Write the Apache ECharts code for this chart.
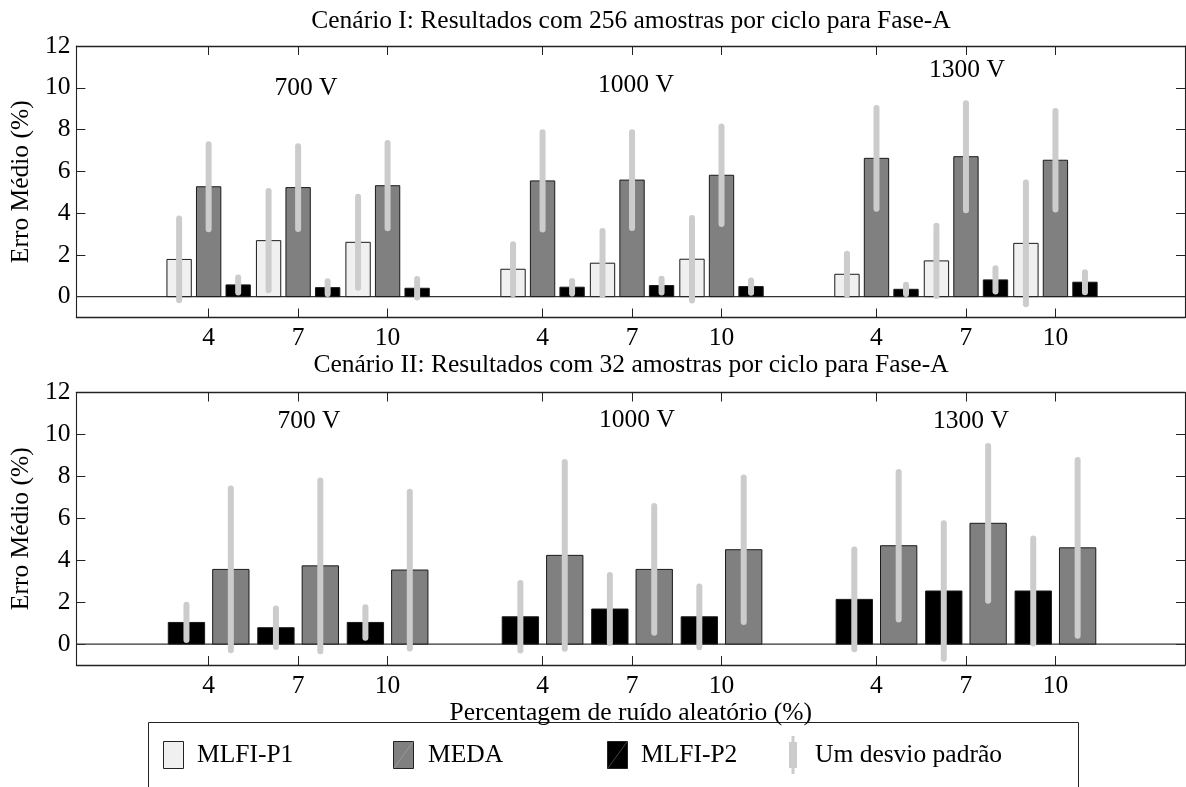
<!DOCTYPE html>
<html>
<head>
<meta charset="utf-8">
<script src="https://cdn.jsdelivr.net/npm/echarts@6/dist/echarts.min.js"></script>
<style>
  html, body { margin: 0; padding: 0; background: #ffffff; }
  #chart { width: 1186px; height: 787px; }
</style>
</head>
<body>
<div id="chart"></div>
<script>
// ---- data ----
const noiseLevels = ['4', '7', '10'];
const voltages = ['700 V', '1000 V', '1300 V'];
const seriesNames = ['MLFI-P1', 'MEDA', 'MLFI-P2'];
const stdLabel = 'Um desvio padrão';
const yTicks = [0, 2, 4, 6, 8, 10, 12];
const titles = [
  'Cenário I: Resultados com 256 amostras por ciclo para Fase-A',
  'Cenário II: Resultados com 32 amostras por ciclo para Fase-A'
];
const yName = 'Erro Médio (%)';
const xName = 'Percentagem de ruído aleatório (%)';

// Cenário I (256 amostras) — order: 700 V (4,7,10), 1000 V (4,7,10), 1300 V (4,7,10)
const s1P1Mean   = [1.78, 2.68, 2.60, 1.31, 1.60, 1.79, 1.07, 1.71, 2.55];
const s1P1Std    = [1.96, 2.38, 2.18, 1.20, 1.54, 1.98, 0.98, 1.68, 2.91];
const s1MedaMean = [5.26, 5.22, 5.31, 5.54, 5.58, 5.81, 6.62, 6.70, 6.53];
const s1MedaStd  = [2.03, 1.98, 2.04, 2.33, 2.29, 2.33, 2.41, 2.56, 2.36];
const s1P2Mean   = [0.56, 0.43, 0.40, 0.45, 0.53, 0.48, 0.35, 0.80, 0.69];
const s1P2Std    = [0.36, 0.30, 0.44, 0.30, 0.33, 0.29, 0.22, 0.56, 0.48];

// Cenário II (32 amostras) — only MLFI-P2 and MEDA
const s2P2Mean   = [1.03, 0.78, 1.03, 1.30, 1.67, 1.30, 2.13, 2.53, 2.53];
const s2P2Std    = [0.84, 0.92, 0.73, 1.61, 1.62, 1.45, 2.38, 3.23, 2.51];
const s2MedaMean = [3.56, 3.73, 3.53, 4.23, 3.56, 4.50, 4.69, 5.76, 4.59];
const s2MedaStd  = [3.86, 4.07, 3.74, 4.45, 3.02, 3.45, 3.52, 3.69, 4.19];

// ---- layout ----
const FONT = 'Liberation Serif, Times New Roman, serif';
const FS = 25.5;
const X_MAX = 12.39;          // axis span, in units of one noise cluster
const FIRST_CLUSTER = 1.478;  // centre of the first cluster
const GROUP_STEP = 3.732;     // distance between voltage groups
const COLORS = { p1: '#f0f0f0', meda: '#808080', p2: '#000000', err: '#cccccc', axis: '#222222' };

function clusterX(i) {
  const g = Math.floor(i / 3), k = i % 3;
  return FIRST_CLUSTER + g * GROUP_STEP + k;
}
const clusterPositions = noiseLevels.concat(noiseLevels, noiseLevels).map((_, i) => clusterX(i));

function labelFor(v) {
  let best = 0, d = Infinity;
  clusterPositions.forEach((p, i) => { if (Math.abs(p - v) < d) { d = Math.abs(p - v); best = i; } });
  return noiseLevels[best % 3];
}

function rows(means, stds) {
  return means.map((m, i) => [clusterX(i), m, stds[i]]);
}

function barSeries(name, gridIdx, data, offset, width, fill, z) {
  return {
    name, type: 'custom', xAxisIndex: gridIdx * 2, yAxisIndex: gridIdx * 2, z,
    data,
    renderItem(params, api) {
      const x = api.value(0), y = api.value(1);
      const a = api.coord([x + offset - width / 2, y]);
      const b = api.coord([x + offset + width / 2, 0]);
      return {
        type: 'rect',
        shape: { x: a[0], y: a[1], width: b[0] - a[0], height: b[1] - a[1] },
        style: { fill, stroke: '#1a1a1a', lineWidth: 1 }
      };
    }
  };
}

function errSeries(name, gridIdx, data, offset, z) {
  return {
    name, type: 'custom', xAxisIndex: gridIdx * 2, yAxisIndex: gridIdx * 2, z,
    data,
    renderItem(params, api) {
      const x = api.value(0) + offset, m = api.value(1), s = api.value(2);
      const top = api.coord([x, m + s]);
      const bot = api.coord([x, m - s]);
      return {
        type: 'line',
        shape: { x1: top[0], y1: top[1], x2: bot[0], y2: bot[1] },
        style: { stroke: COLORS.err, lineWidth: 6, lineCap: 'round' }
      };
    }
  };
}

function baseline(gridIdx) {
  return {
    type: 'custom', xAxisIndex: gridIdx * 2, yAxisIndex: gridIdx * 2, z: 1,
    data: [[0, 0]],
    silent: true,
    renderItem(params, api) {
      const a = api.coord([0, 0]);
      const b = api.coord([X_MAX, 0]);
      return { type: 'line', shape: { x1: a[0], y1: a[1], x2: b[0], y2: b[1] },
               style: { stroke: '#333333', lineWidth: 1.2 } };
    }
  };
}

const grids = [
  { left: 71, top: 46, width: 1114, height: 271.5 },
  { left: 72, top: 392.5, width: 1113, height: 272.5 }
];

const xAxes = [], yAxes = [];
grids.forEach((g, gi) => {
  const common = {
    type: 'value', gridIndex: gi, min: 0, max: X_MAX,
    axisLine: { show: true, onZero: false, lineStyle: { color: COLORS.axis, width: 1.3 } },
    axisTick: { show: true, inside: true, length: 9, customValues: clusterPositions,
                lineStyle: { color: COLORS.axis, width: 1 } },
    splitLine: { show: false }
  };
  xAxes.push(Object.assign({}, common, {
    position: 'bottom',
    name: gi === 1 ? xName : '',
    nameLocation: 'middle', nameGap: 33,
    nameTextStyle: { fontFamily: FONT, fontSize: FS, color: '#000' },
    axisLabel: { show: true, customValues: clusterPositions, formatter: labelFor,
                 fontFamily: FONT, fontSize: FS, color: '#000', margin: 8 }
  }));
  xAxes.push(Object.assign({}, common, { position: 'top', axisLabel: { show: false } }));

  const ycommon = {
    type: 'value', gridIndex: gi, min: -1, max: 12, interval: 1,
    axisLine: { show: true, onZero: false, lineStyle: { color: COLORS.axis, width: 1.1 } },
    axisTick: { show: true, inside: true, length: 9, customValues: yTicks,
                lineStyle: { color: COLORS.axis, width: 1 } },
    splitLine: { show: false }
  };
  yAxes.push(Object.assign({}, ycommon, {
    position: 'left',
    name: yName, nameLocation: 'middle', nameGap: 34, nameRotate: 90,
    nameTextStyle: { fontFamily: FONT, fontSize: FS, color: '#000' },
    axisLabel: { show: true, customValues: yTicks, fontFamily: FONT, fontSize: FS,
                 color: '#000', margin: 6 }
  }));
  yAxes.push(Object.assign({}, ycommon, { position: 'right', axisLabel: { show: false } }));
});

// bar geometry (cluster units)
const TOP_OFF = 0.33, TOP_W = 0.272;
const BOT_OFF = 0.248, BOT_W = 0.406;

const series = [
  baseline(0), baseline(1),
  barSeries(seriesNames[0], 0, rows(s1P1Mean, s1P1Std), -TOP_OFF, TOP_W, COLORS.p1, 2),
  barSeries(seriesNames[1], 0, rows(s1MedaMean, s1MedaStd), 0, TOP_W, COLORS.meda, 2),
  barSeries(seriesNames[2], 0, rows(s1P2Mean, s1P2Std), TOP_OFF, TOP_W, COLORS.p2, 2),
  errSeries(stdLabel, 0, rows(s1P1Mean, s1P1Std), -TOP_OFF, 3),
  errSeries(stdLabel, 0, rows(s1MedaMean, s1MedaStd), 0, 3),
  errSeries(stdLabel, 0, rows(s1P2Mean, s1P2Std), TOP_OFF, 3),
  barSeries(seriesNames[2], 1, rows(s2P2Mean, s2P2Std), -BOT_OFF, BOT_W, COLORS.p2, 2),
  barSeries(seriesNames[1], 1, rows(s2MedaMean, s2MedaStd), BOT_OFF, BOT_W, COLORS.meda, 2),
  errSeries(stdLabel, 1, rows(s2P2Mean, s2P2Std), -BOT_OFF, 3),
  errSeries(stdLabel, 1, rows(s2MedaMean, s2MedaStd), BOT_OFF, 3)
];

// voltage annotations
const voltagePos = [
  [[306, 88], [636, 85], [967, 70]],
  [[309, 421.5], [637, 420.5], [971, 421.5]]
];
const textStyleBase = { fontFamily: FONT, fontSize: FS, fill: '#000' };
const graphics = [];
voltagePos.forEach(row => row.forEach((p, i) => {
  graphics.push({ type: 'text', x: p[0], y: p[1],
    style: Object.assign({ text: voltages[i], align: 'center', verticalAlign: 'middle' }, textStyleBase) });
}));

// legend box
const LEG_TOP = 722, LEG_Y = 755;
graphics.push({ type: 'rect', shape: { x: 148.5, y: LEG_TOP + 0.5, width: 930, height: 90 },
  style: { fill: '#fff', stroke: '#222', lineWidth: 1 }, z: 0 });
const legendItems = [
  { x: 163, fill: COLORS.p1, name: seriesNames[0], tx: 197 },
  { x: 393, fill: COLORS.meda, name: seriesNames[1], tx: 428 },
  { x: 607, fill: COLORS.p2, name: seriesNames[2], tx: 641 }
];
legendItems.forEach((it, i) => {
  graphics.push({ type: 'rect', shape: { x: it.x + 0.5, y: 741.5, width: 20, height: 27 },
    style: { fill: it.fill, stroke: '#222', lineWidth: 1 }, z: 1 });
  if (i > 0) {
    graphics.push({ type: 'line', shape: { x1: it.x + 1, y1: 768, x2: it.x + 20, y2: 742 },
      style: { stroke: i === 1 ? '#a0a0a0' : '#555', lineWidth: 0.8 }, z: 2 });
  }
  graphics.push({ type: 'text', x: it.tx, y: LEG_Y,
    style: Object.assign({ text: it.name, align: 'left', verticalAlign: 'middle' }, textStyleBase), z: 2 });
});
graphics.push({ type: 'line', shape: { x1: 793, y1: 736, x2: 793, y2: 774 },
  style: { stroke: COLORS.err, lineWidth: 3 }, z: 1 });
graphics.push({ type: 'line', shape: { x1: 793, y1: 742, x2: 793, y2: 768 },
  style: { stroke: COLORS.err, lineWidth: 8 }, z: 1 });
graphics.push({ type: 'text', x: 815, y: LEG_Y,
  style: Object.assign({ text: stdLabel, align: 'left', verticalAlign: 'middle' }, textStyleBase), z: 2 });

const chart = echarts.init(document.getElementById('chart'), null, { renderer: 'canvas' });
chart.setOption({
  backgroundColor: '#ffffff',
  animation: false,
  title: [
    { text: titles[0], left: 626, textAlign: 'center', top: 3,
      textStyle: { fontFamily: FONT, fontSize: FS, fontWeight: 'normal', color: '#000' } },
    { text: titles[1], left: 626, textAlign: 'center', top: 347,
      textStyle: { fontFamily: FONT, fontSize: FS, fontWeight: 'normal', color: '#000' } }
  ],
  grid: grids,
  xAxis: xAxes,
  yAxis: yAxes,
  series,
  graphic: graphics
});
</script>
</body>
</html>
